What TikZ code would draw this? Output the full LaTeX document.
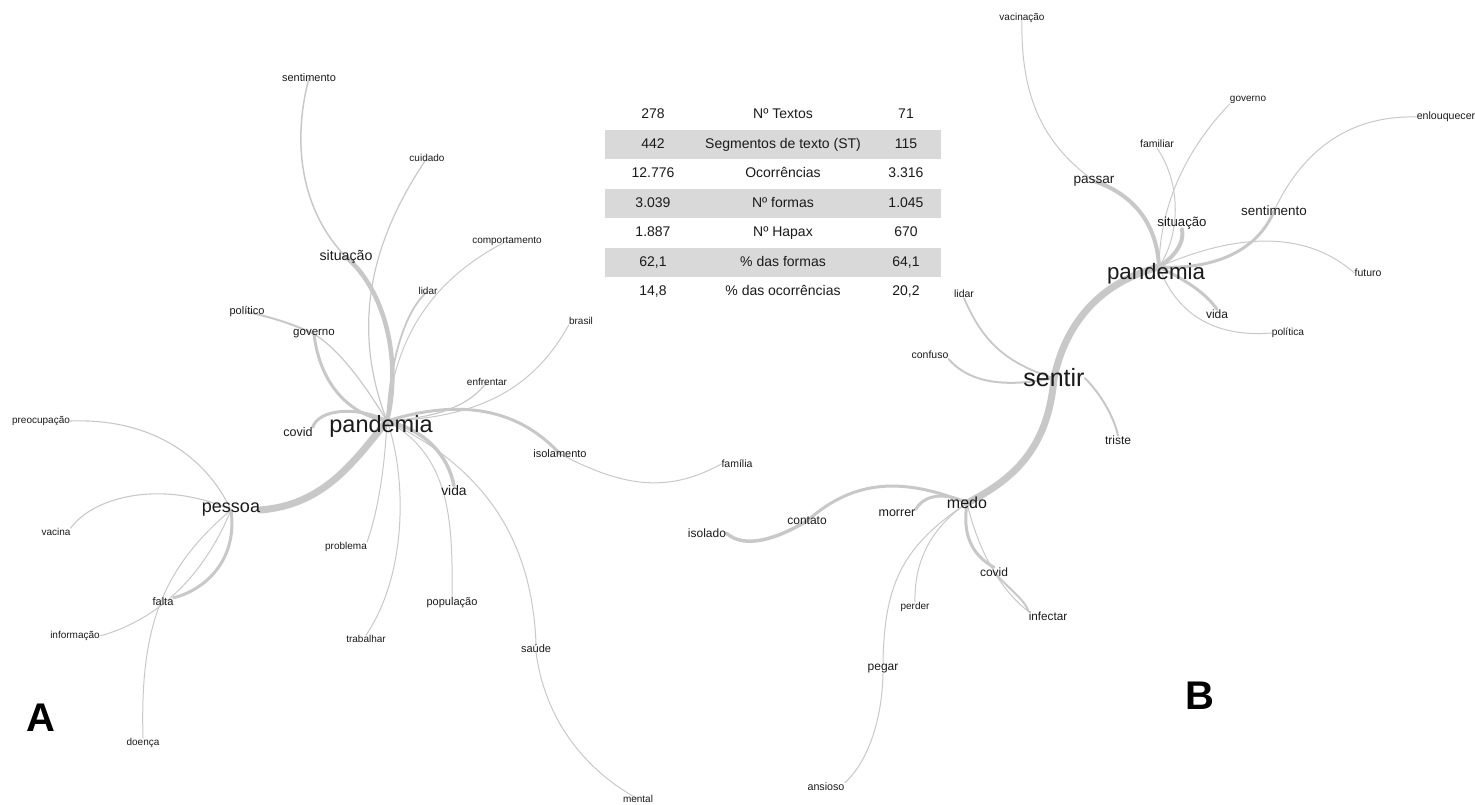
\documentclass[tikz,border=0pt]{standalone}
\usepackage{fontspec}
\setmainfont{Liberation Sans}
\usetikzlibrary{backgrounds}
\definecolor{edgec}{HTML}{C8C8C8}
\definecolor{txt}{HTML}{1A1A1A}
\definecolor{band}{HTML}{D9D9D9}
\tikzset{
  lbl/.style={inner sep=0pt, text=txt, font=\fontsize{#1}{#1}\selectfont},
  ed/.style={draw=edgec, line width=#1, line cap=round},
  cell/.style={inner sep=0pt, text=txt, text height=0.72em, text depth=0em, font=\fontsize{14}{14}\selectfont},
  bandrow/.style={fill=band, draw=none},
  panel/.style={inner sep=0pt, text=black, font=\fontsize{40}{40}\selectfont\bfseries}
}
\begin{document}
\begin{tikzpicture}[x=1pt,y=-1pt]
\useasboundingbox (0,0) rectangle (1475,805);

% ---------- table ----------
\fill[bandrow] (605,130) rectangle (941,159);
\fill[bandrow] (605,189) rectangle (941,218);
\fill[bandrow] (605,248) rectangle (941,277);
\node[cell] (t1a) at (653,115) {278};
\node[cell] (t1b) at (783,115) {Nº Textos};
\node[cell] (t1c) at (906,115) {71};
\node[cell] (t2a) at (653,144.5) {442};
\node[cell] (t2b) at (783,144.5) {Segmentos de texto (ST)};
\node[cell] (t2c) at (906,144.5) {115};
\node[cell] (t3a) at (653,174) {12.776};
\node[cell] (t3b) at (783,174) {Ocorrências};
\node[cell] (t3c) at (906,174) {3.316};
\node[cell] (t4a) at (653,203.5) {3.039};
\node[cell] (t4b) at (783,203.5) {Nº formas};
\node[cell] (t4c) at (906,203.5) {1.045};
\node[cell] (t5a) at (653,233) {1.887};
\node[cell] (t5b) at (783,233) {Nº Hapax};
\node[cell] (t5c) at (906,233) {670};
\node[cell] (t6a) at (653,262.5) {62,1};
\node[cell] (t6b) at (783,262.5) {\% das formas};
\node[cell] (t6c) at (906,262.5) {64,1};
\node[cell] (t7a) at (653,292) {14,8};
\node[cell] (t7b) at (783,292) {\% das ocorrências};
\node[cell] (t7c) at (906,292) {20,2};

% ---------- graph A nodes ----------
\node[lbl=23.5] (pA) at (381,426) {pandemia};
\coordinate (hA) at ([xshift=6pt,yshift=5pt]pA.center);
\node[lbl=11] (sentA) at (309,78) {sentimento};
\node[lbl=10] (cuidA) at (427,158) {cuidado};
\node[lbl=10] (comp) at (507,241) {comportamento};
\node[lbl=14.2] (sitA) at (346,257) {situação};
\node[lbl=10] (lidA) at (428,291) {lidar};
\node[lbl=11] (polA) at (247,312) {político};
\node[lbl=11.5] (govA) at (314,334) {governo};
\node[lbl=10] (brasil) at (581,321) {brasil};
\node[lbl=10] (enfr) at (487,382) {enfrentar};
\node[lbl=12.5] (covA) at (298,432) {covid};
\node[lbl=11] (isol) at (560,454) {isolamento};
\node[lbl=10.5] (fam) at (737,464) {família};
\node[lbl=10] (preoc) at (41,421) {preocupação};
\node[lbl=18] (pesA) at (231,510) {pessoa};
\node[lbl=13.8] (vida) at (454,491) {vida};
\node[lbl=10] (vac) at (56,532) {vacina};
\node[lbl=10] (prob) at (346,547) {problema};
\node[lbl=11] (falta) at (163,602) {falta};
\node[lbl=10] (info) at (75,636) {informação};
\node[lbl=11] (pop) at (452,603) {população};
\node[lbl=10] (trab) at (366,639) {trabalhar};
\node[lbl=11] (saude) at (536,648) {saúde};
\node[lbl=10] (doenca) at (143,743) {doença};
\node[lbl=10] (mental) at (638,799) {mental};
\node[panel] (labA) at (41,718) {A};

% ---------- graph B nodes ----------
\node[lbl=22.3] (pB) at (1156,274) {pandemia};
\coordinate (hB) at ([xshift=3pt,yshift=7pt]pB.center);
\node[lbl=10] (vacin) at (1022,18) {vacinação};
\node[lbl=10] (govB) at (1248,100) {governo};
\node[lbl=10.6] (enlou) at (1446,117) {enlouquecer};
\node[lbl=10.5] (famil) at (1157,144) {familiar};
\node[lbl=13.6] (passar) at (1094,181) {passar};
\node[lbl=13.2] (sitB) at (1182,223) {situação};
\node[lbl=13.4] (sentB) at (1274,211) {sentimento};
\node[lbl=10.5] (futuro) at (1368,273) {futuro};
\node[lbl=12] (vidaB) at (1217,314) {vida};
\node[lbl=10.2] (polB) at (1288,333) {política};
\node[lbl=10.5] (lidB) at (964,294) {lidar};
\node[lbl=10.5] (conf) at (930,355) {confuso};
\node[lbl=25] (sentir) at (1054,378) {sentir};
\node[lbl=12] (triste) at (1118,440) {triste};
\node[lbl=16] (medo) at (967,503) {medo};
\node[lbl=12.5] (morrer) at (897,513) {morrer};
\node[lbl=12] (contato) at (807,521) {contato};
\node[lbl=12] (isolado) at (707,533) {isolado};
\node[lbl=12] (covB) at (994,572) {covid};
\node[lbl=11.7] (infect) at (1048,616) {infectar};
\node[lbl=10] (perder) at (915,607) {perder};
\node[lbl=12] (pegar) at (883,669) {pegar};
\node[lbl=10.7] (ansioso) at (826,787) {ansioso};
\node[panel] (labB) at (1200,696) {B};

% ---------- edges ----------
\begin{scope}[on background layer]
% graph A
\draw[ed=4.5] (sitA.center) .. controls (385,290) and (402,360) .. (hA);
\draw[ed=1.5] (sentA.center) .. controls (290,150) and (305,215) .. (sitA.center);
\draw[ed=1.2] (cuidA.center) .. controls (368,245) and (352,330) .. (hA);
\draw[ed=1] (comp.center) .. controls (450,270) and (395,320) .. (hA);
\draw[ed=1.8] (lidA.center) .. controls (405,310) and (390,360) .. (hA);
\draw[ed=3] (govA.center) .. controls (320,385) and (350,415) .. (hA);
\draw[ed=2] (polA.center) .. controls (275,318) and (295,325) .. (govA.center);
\draw[ed=1.2] (govA.center) .. controls (340,350) and (365,385) .. (hA);
\draw[ed=3] (covA.north east) .. controls (318,410) and (355,405) .. (hA);
\draw[ed=7] (pesA.east) .. controls (325,505) and (355,460) .. (hA);
\draw[ed=1.1] (preoc.east) .. controls (150,418) and (205,455) .. (pesA.center);
\draw[ed=1.1] (vac.north east) .. controls (95,495) and (165,480) .. (pesA.center);
\draw[ed=3] (pesA.center) .. controls (238,560) and (205,590) .. (falta.north east);
\draw[ed=1] (info.east) .. controls (150,622) and (200,585) .. (pesA.center);
\draw[ed=1] (doenca.north) .. controls (140,630) and (160,570) .. (pesA.center);
\draw[ed=1.2] (hA) .. controls (432,418) and (468,408) .. (enfr.center);
\draw[ed=1] (hA) .. controls (470,418) and (530,395) .. (brasil.south west);
\draw[ed=3] (hA) .. controls (455,400) and (515,405) .. (isol.center);
\draw[ed=1] (isol.center) .. controls (620,485) and (665,495) .. (fam.west);
\draw[ed=3.5] (hA) .. controls (425,430) and (448,455) .. (vida.north);
\draw[ed=1] (pop.north) .. controls (453,520) and (450,455) .. (hA);
\draw[ed=1] (hA) .. controls (485,468) and (532,540) .. (saude.north);
\draw[ed=1] (saude.south) .. controls (545,720) and (585,770) .. (mental.center);
\draw[ed=1] (prob.north east) .. controls (380,505) and (385,460) .. (hA);
\draw[ed=1] (trab.north) .. controls (410,570) and (405,470) .. (hA);
% graph B
\draw[ed=7] (medo.center) .. controls (1012,480) and (1048,450) .. (sentir.center);
\draw[ed=7] (sentir.center) .. controls (1063,335) and (1090,285) .. (hB);
\draw[ed=4] (passar.center) .. controls (1135,195) and (1157,225) .. (hB);
\draw[ed=1] (vacin.center) .. controls (1020,100) and (1045,145) .. (passar.center);
\draw[ed=4] (sitB.south) .. controls (1185,245) and (1172,258) .. (hB);
\draw[ed=1] (famil.south) .. controls (1182,185) and (1180,235) .. (hB);
\draw[ed=1] (govB.south west) .. controls (1195,140) and (1160,195) .. (hB);
\draw[ed=3] (hB) .. controls (1215,270) and (1258,250) .. (sentB.center);
\draw[ed=1] (sentB.center) .. controls (1300,155) and (1345,115) .. (enlou.west);
\draw[ed=1] (hB) .. controls (1225,238) and (1300,225) .. (futuro.west);
\draw[ed=3] (hB) .. controls (1185,280) and (1205,292) .. (vidaB.north);
\draw[ed=1] (hB) .. controls (1175,310) and (1210,338) .. (polB.west);
\draw[ed=1.8] (lidB.south) .. controls (980,335) and (1000,362) .. (sentir.center);
\draw[ed=2] (conf.south east) .. controls (965,378) and (995,390) .. (sentir.center);
\draw[ed=2] (sentir.east) .. controls (1095,388) and (1112,410) .. (triste.north);
\draw[ed=3] (medo.center) .. controls (905,478) and (855,478) .. (contato.center);
\draw[ed=3.5] (contato.center) .. controls (778,538) and (745,550) .. (isolado.east);
\draw[ed=3] (medo.center) .. controls (945,492) and (925,494) .. (morrer.north east);
\draw[ed=3] (medo.center) .. controls (962,535) and (972,555) .. (covB.north);
\draw[ed=2] (covB.center) .. controls (1010,590) and (1025,600) .. (infect.north west);
\draw[ed=1] (medo.center) .. controls (978,550) and (1000,590) .. (infect.north west);
\draw[ed=1] (medo.center) .. controls (928,530) and (914,565) .. (perder.north);
\draw[ed=1] (medo.center) .. controls (905,545) and (884,580) .. (pegar.north);
\draw[ed=1] (pegar.south) .. controls (882,725) and (865,765) .. (ansioso.north east);
\end{scope}
\end{tikzpicture}
\end{document}
